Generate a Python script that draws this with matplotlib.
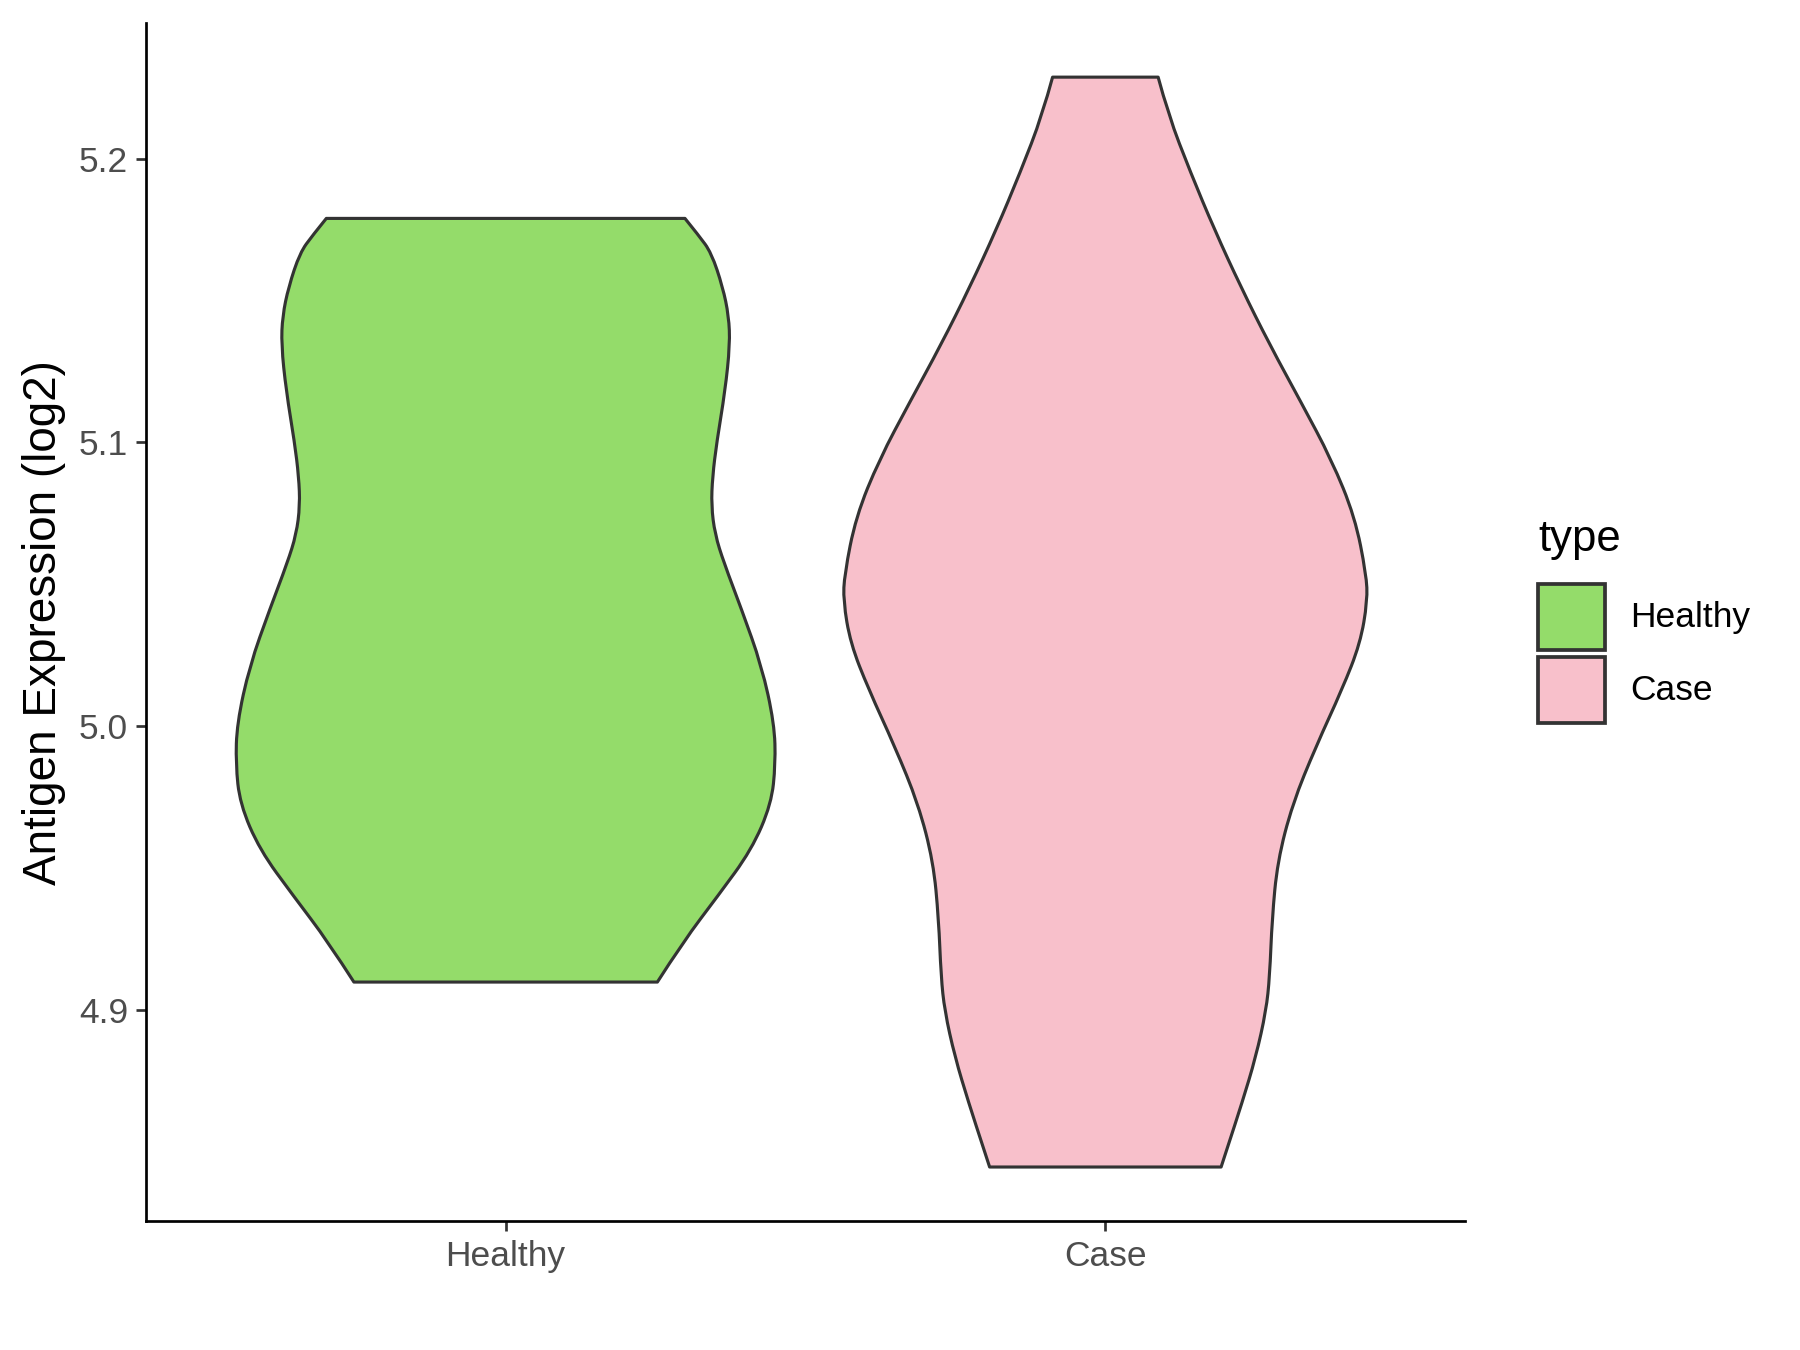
import matplotlib.pyplot as plt
from matplotlib.patches import PathPatch, Rectangle
from matplotlib.path import Path
import numpy as np

plt.rcParams['font.family'] = ['Liberation Sans', 'DejaVu Sans']

groups = ["Healthy", "Case"]
colors = ["#94DC6A", "#F8C0CB"]

# violin outlines: expression level and half width
healthy_y = [5.1789, 5.1729, 5.1668, 5.1547, 5.1445, 5.1344, 5.1182, 5.1000, 5.0879,
             5.0777, 5.0676, 5.0575, 5.0413, 5.0211, 5.0008, 4.9866, 4.9725, 4.9563,
             4.9401, 4.9239, 4.9097]
healthy_w = [0.299, 0.322, 0.343, 0.362, 0.372, 0.374, 0.366, 0.352, 0.345,
             0.343, 0.349, 0.364, 0.393, 0.427, 0.448, 0.450, 0.443, 0.410,
             0.354, 0.296, 0.253]

case_y = [5.2287, 5.2154, 5.1951, 5.1749, 5.1547, 5.1344, 5.1142, 5.0939, 5.0737,
          5.0534, 5.0441, 5.0291, 5.0130, 4.9927, 4.9725, 4.9522, 4.9320, 4.9117,
          4.8996, 4.8834, 4.8672, 4.8510, 4.8445]
case_w = [0.088, 0.105, 0.142, 0.182, 0.226, 0.274, 0.326, 0.377, 0.416,
          0.435, 0.437, 0.425, 0.395, 0.351, 0.312, 0.287, 0.278, 0.274,
          0.268, 0.251, 0.228, 0.203, 0.193]

yticks = [4.9, 5.0, 5.1, 5.2]


def smooth_side(pts, verts, codes):
    # quadratic curves through midpoints, ends kept on the points
    for i in range(1, len(pts) - 1):
        verts.append(pts[i])
        codes.append(Path.CURVE3)
        if i < len(pts) - 2:
            verts.append((pts[i] + pts[i + 1]) / 2)
        else:
            verts.append(pts[i + 1])
        codes.append(Path.CURVE3)


fig = plt.figure(figsize=(12, 9), dpi=150)
ax = fig.add_axes([0.081, 0.0952, 0.733, 0.888])

for i, (ys, ws) in enumerate([(healthy_y, healthy_w), (case_y, case_w)]):
    ys = np.array(ys)
    ws = np.array(ws)
    pos = i + 1
    left = np.column_stack([pos - ws, ys])
    right = np.column_stack([pos + ws, ys])[::-1]
    verts = [left[0]]
    codes = [Path.MOVETO]
    smooth_side(left, verts, codes)
    verts.append(right[0])
    codes.append(Path.LINETO)
    smooth_side(right, verts, codes)
    verts.append(left[0])
    codes.append(Path.CLOSEPOLY)
    ax.add_patch(PathPatch(Path(verts, codes), facecolor=colors[i], edgecolor="#333333",
                           linewidth=1.5, joinstyle="round"))

ax.set_xlim(0.4, 2.6)
ax.set_ylim(4.8253, 5.2479)
ax.set_xticks([1, 2])
ax.set_xticklabels(groups)
ax.set_yticks(yticks)
ax.set_yticklabels([f"{v:.1f}" for v in yticks])
ax.tick_params(axis="both", labelsize=17, labelcolor="#4D4D4D", color="#333333",
               length=5, width=1.3)
ax.tick_params(axis="x", pad=4)
for s in ["top", "right"]:
    ax.spines[s].set_visible(False)
for s in ["left", "bottom"]:
    ax.spines[s].set_linewidth(1.3)
    ax.spines[s].set_color("black")
ax.set_ylabel("Antigen Expression (log2)", fontsize=22, labelpad=6)

# legend
W, H = 1800, 1350
fig.text(1538 / W, 1 - 540 / H, "type", fontsize=21, va="center", ha="left")
key_tops = [584, 657]
for i, g in enumerate(groups):
    top = key_tops[i]
    fig.add_artist(Rectangle((1538 / W, 1 - (top + 66) / H), 67 / W, 66 / H,
                             transform=fig.transFigure, facecolor=colors[i],
                             edgecolor="#333333", linewidth=1.8))
    fig.text(1630 / W, 1 - (top + 33) / H, g, fontsize=17, va="center", ha="left")

fig.savefig("out.png", dpi=150)
